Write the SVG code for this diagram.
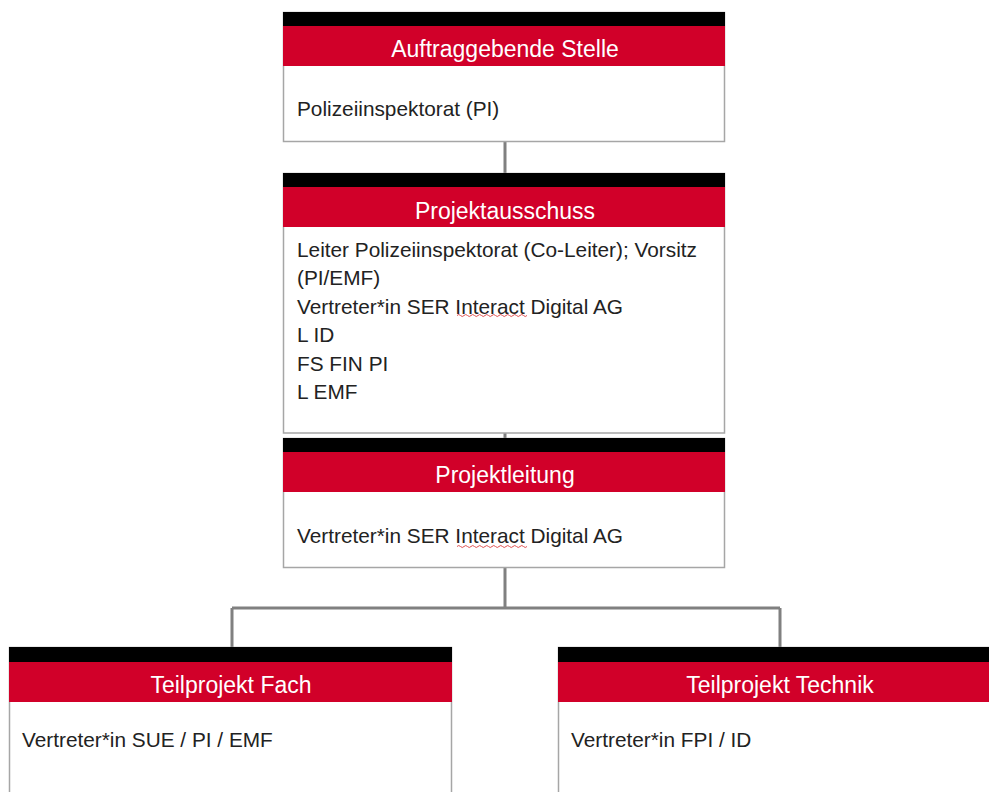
<svg xmlns="http://www.w3.org/2000/svg" width="989" height="792" viewBox="0 0 989 792">
<style>
.bar{fill:#000}
.red{fill:#d10029}
.body{fill:#fff;stroke:#a6a6a6;stroke-width:1.5}
.title{font-family:"Liberation Sans",Arial,sans-serif;font-size:23px;fill:#fff;text-anchor:middle}
.txt{font-family:"Liberation Sans",Arial,sans-serif;font-size:20.8px;fill:#222}
.conn{fill:none;stroke:#808080;stroke-width:3}
.wave{fill:none;stroke:#e05050;stroke-width:1}
</style>
<rect width="989" height="792" fill="#fff"/>
<g id="connectors">
<path class="conn" d="M505 142V174M505 433V439M505 568V608M232 608H780M232 608V648M780 608V648"/>
</g>
<g id="auftraggebende-stelle">
<rect class="body" x="283.5" y="12.5" width="441" height="129"/>
<rect class="bar" x="283" y="12" width="442" height="14"/>
<rect class="red" x="283" y="26" width="442" height="40"/>
<text class="title" x="505" y="57">Auftraggebende Stelle</text>
<text class="txt" x="297" y="116">Polizeiinspektorat (PI)</text>
</g>
<g id="projektausschuss">
<rect class="body" x="283.5" y="173.5" width="441" height="259.5"/>
<rect class="bar" x="283" y="173" width="442" height="14"/>
<rect class="red" x="283" y="187" width="442" height="40"/>
<text class="title" x="505" y="219">Projektausschuss</text>
<text class="txt" x="297" y="256.5">Leiter Polizeiinspektorat (Co-Leiter); Vorsitz</text>
<text class="txt" x="297" y="285">(PI/EMF)</text>
<text class="txt" x="297" y="313.5">Vertreter*in SER Interact Digital AG</text>
<text class="txt" x="297" y="342">L ID</text>
<text class="txt" x="297" y="370.5">FS FIN PI</text>
<text class="txt" x="297" y="399">L EMF</text>
<path class="wave" d="M457 315.5q1.75 -2 3.5 0t3.5 0t3.5 0t3.5 0t3.5 0t3.5 0t3.5 0t3.5 0t3.5 0t3.5 0t3.5 0t3.5 0t3.5 0t3.5 0t3.5 0t3.5 0t3.5 0t3.5 0t3.5 0t3.5 0"/>
</g>
<g id="projektleitung">
<rect class="body" x="283.5" y="438.5" width="441" height="129"/>
<rect class="bar" x="283" y="438" width="442" height="14"/>
<rect class="red" x="283" y="452" width="442" height="40"/>
<text class="title" x="505" y="483">Projektleitung</text>
<text class="txt" x="297" y="542.5">Vertreter*in SER Interact Digital AG</text>
<path class="wave" d="M457 546.5q1.75 -2 3.5 0t3.5 0t3.5 0t3.5 0t3.5 0t3.5 0t3.5 0t3.5 0t3.5 0t3.5 0t3.5 0t3.5 0t3.5 0t3.5 0t3.5 0t3.5 0t3.5 0t3.5 0t3.5 0t3.5 0"/>
</g>
<g id="teilprojekt-fach">
<rect class="body" x="9.5" y="647.5" width="442" height="160"/>
<rect class="bar" x="9" y="647" width="443" height="15"/>
<rect class="red" x="9" y="662" width="443" height="40"/>
<text class="title" x="231" y="692.5">Teilprojekt Fach</text>
<text class="txt" x="22" y="746.5">Vertreter*in SUE / PI / EMF</text>
</g>
<g id="teilprojekt-technik">
<rect class="body" x="558.5" y="647.5" width="442" height="160"/>
<rect class="bar" x="558" y="647" width="443" height="15"/>
<rect class="red" x="558" y="662" width="443" height="40"/>
<text class="title" x="780" y="692.5">Teilprojekt Technik</text>
<text class="txt" x="571" y="746.5">Vertreter*in FPI / ID</text>
</g>
</svg>
